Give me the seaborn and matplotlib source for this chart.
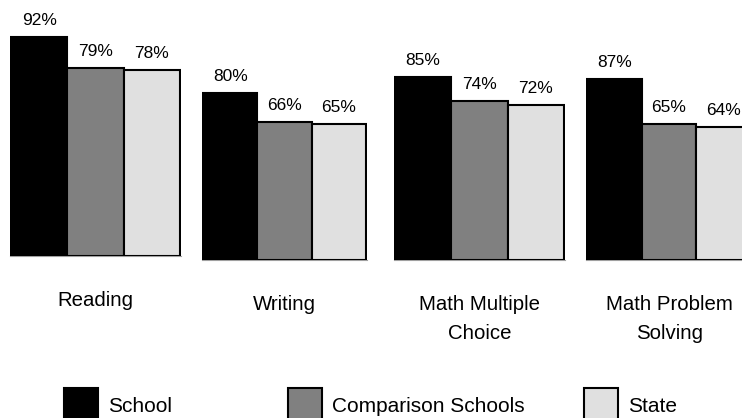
"""
Test score comparison: School vs Comparison Schools vs State
Four small bar panels side by side, each with its own vertical scale.
"""

import matplotlib
matplotlib.use("Agg")
import matplotlib.pyplot as plt
import pandas as pd
import seaborn as sns
from matplotlib.patches import Rectangle

subjects = ["Reading", "Writing", "Math Multiple\nChoice", "Math Problem\nSolving"]
series = ["School", "Comparison Schools", "State"]
school = [92, 80, 85, 87]
comparison = [79, 66, 74, 65]
state = [78, 65, 72, 64]
colors = ["#000000", "#808080", "#e0e0e0"]

# panel layout in pixels: first bar left edge, bar width, baseline (from top), px per percent
panel_left = [11, 203, 395, 587]
panel_barw = [56.3, 54.3, 56.3, 54.7]
panel_base = [256, 260, 260, 260]
panel_scale = [2.38, 2.09, 2.15, 2.085]

W, H = 742, 418

records = []
for i, subj in enumerate(subjects):
    for name, vals in zip(series, [school, comparison, state]):
        records.append({"Subject": subj, "Series": name, "Score": vals[i]})
df = pd.DataFrame(records)

sns.set_theme(style="white")
plt.rcParams["font.family"] = ["Liberation Sans", "DejaVu Sans"]

fig = plt.figure(figsize=(W / 100, H / 100), dpi=100)

for i, subj in enumerate(subjects):
    L, bw, B, S = panel_left[i], panel_barw[i], panel_base[i], panel_scale[i]
    pad = 1.5
    ax = fig.add_axes([(L - pad) / W, (H - B) / H, (3 * bw + 2 * pad) / W, B / H])
    ax.patch.set_alpha(0)
    sub = df[df["Subject"] == subj]
    sns.barplot(data=sub, x="Series", y="Score", hue="Series",
                order=series, hue_order=series, palette=colors,
                saturation=1, width=1.0, edgecolor="black", linewidth=1.5,
                errorbar=None, legend=False, ax=ax)
    ax.set_xlim(-0.5 - pad / bw, 2.5 + pad / bw)
    ax.set_ylim(0, B / S)

    # value labels above bars
    for cont in ax.containers:
        for bar in cont:
            ax.annotate(f"{bar.get_height():.0f}%",
                        xy=(bar.get_x() + bar.get_width() / 2, bar.get_height()),
                        xytext=(0, 12), textcoords="offset pixels",
                        ha="center", va="baseline", fontsize=12.5,
                        color="black", annotation_clip=False)

    # subject label under the panel
    ax.annotate(subj, xy=(1, 0), xycoords=("data", "axes fraction"),
                xytext=(0, -35), textcoords="offset pixels",
                ha="center", va="top", fontsize=14.7, linespacing=1.66,
                color="black", annotation_clip=False)

    ax.set_xticks([])
    ax.set_yticks([])
    ax.set_xlabel("")
    ax.set_ylabel("")
    for side in ["top", "left", "right"]:
        ax.spines[side].set_visible(False)
    ax.spines["bottom"].set_color("#a0a0a0")
    ax.spines["bottom"].set_linewidth(0.8)
    ax.spines["bottom"].set_zorder(0.5)

# legend drawn by hand (entries are unevenly spaced in the original)
legend_x = [64, 288, 584]
box = 34
box_top = 388
for name, c, x in zip(series, colors, legend_x):
    fig.add_artist(Rectangle((x / W, (H - box_top - box) / H), box / W, box / H,
                             transform=fig.transFigure, facecolor=c,
                             edgecolor="black", linewidth=1.5))
    fig.text((x + 44) / W, (H - 412.5) / H, name, ha="left", va="baseline",
             fontsize=15, color="black")

fig.savefig("out.png", dpi=100)
